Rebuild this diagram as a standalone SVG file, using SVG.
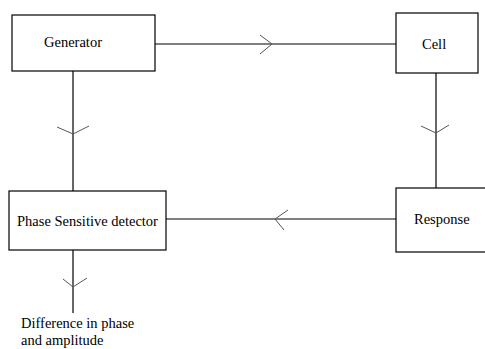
<svg xmlns="http://www.w3.org/2000/svg" width="485" height="349" viewBox="0 0 485 349">
<style>
.box{fill:#fff;stroke:#000;stroke-width:1.2}
.t{font-size:14.5px;fill:#000}
.ln{stroke:#000;stroke-width:1.2;fill:none}
.ch{stroke:#555;stroke-width:1;fill:none}
</style>
<rect width="485" height="349" fill="#fff"/>
<g id="connectors">
<line class="ln" x1="155" y1="44" x2="396" y2="44"/>
<polyline class="ch" points="260,35 272,44 260,54"/>
<line class="ln" x1="73" y1="71" x2="73" y2="191"/>
<polyline class="ch" points="57,127 73,134 89,126"/>
<line class="ln" x1="436" y1="73" x2="436" y2="188"/>
<polyline class="ch" points="421,126 436,133 449,125"/>
<line class="ln" x1="396" y1="219" x2="166" y2="219"/>
<polyline class="ch" points="288,210 275,219 284,230"/>
<line class="ln" x1="73" y1="250" x2="73" y2="313"/>
<polyline class="ch" points="63,279 73,287 87,278"/>
</g>
<g font-family="'Liberation Serif', 'DejaVu Serif', serif">
<g id="generator">
<rect class="box" x="12" y="15" width="143" height="56"/>
<text class="t" x="44" y="47">Generator</text>
</g>
<g id="cell">
<rect class="box" x="396" y="13" width="82" height="60"/>
<text class="t" x="422" y="49">Cell</text>
</g>
<g id="phase">
<rect class="box" x="9" y="191" width="157" height="59"/>
<text class="t" x="17" y="226">Phase Sensitive detector</text>
</g>
<g id="response">
<rect class="box" x="396" y="188" width="95" height="64"/>
<text class="t" x="414" y="224">Response</text>
</g>
<g id="output">
<text class="t" x="21" y="328">Difference in phase</text>
<text class="t" x="21" y="345">and amplitude</text>
</g>
</g>
</svg>
